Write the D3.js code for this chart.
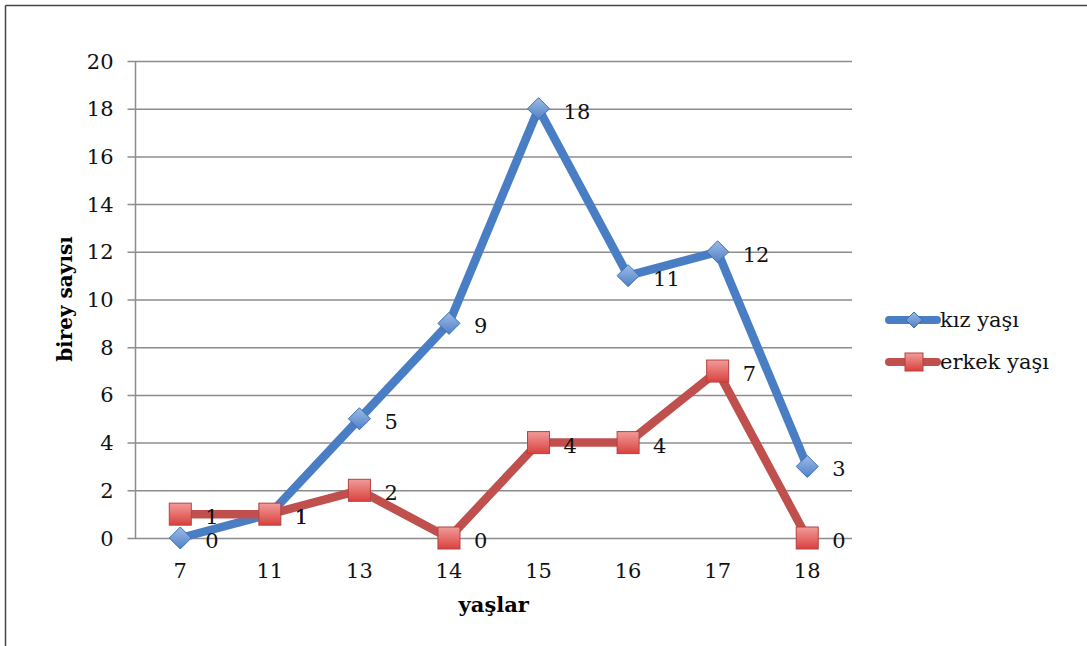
<!DOCTYPE html>
<html><head><meta charset="utf-8">
<script src="https://cdn.jsdelivr.net/npm/d3@7"></script>
<style>body{margin:0;background:#fff}svg{display:block}</style>
</head><body>
<svg id="c" width="1087" height="646"></svg>
<script>
const categories = ["7","11","13","14","15","16","17","18"];
const kiz = [0,1,5,9,18,11,12,3];
const erkek = [1,1,2,0,4,4,7,0];
const yTicks = [0,2,4,6,8,10,12,14,16,18,20];
const seriesNames = ["kız yaşı","erkek yaşı"];

const svg = d3.select("#c");
const W=1087,H=646;
const font = "'DejaVu Serif',serif";
// frame
svg.append("line").attr("x1",5.5).attr("x2",5.5).attr("y1",5.5).attr("y2",H).attr("stroke","#444").attr("stroke-width",1.5);
svg.append("line").attr("x1",5.5).attr("x2",W).attr("y1",5.5).attr("y2",5.5).attr("stroke","#444").attr("stroke-width",1.5);

const L=135.5,R=852,T=61,B=538;
const x = d3.scaleBand().domain(categories).range([L,R]);
const y = d3.scaleLinear().domain([0,20]).range([B,T]);
const cx = d=>x(d)+x.bandwidth()/2;

// gridlines
svg.append("g").selectAll("line").data(yTicks).join("line")
  .attr("x1",L-8).attr("x2",R).attr("y1",d=>y(d)+0.5).attr("y2",d=>y(d)+0.5)
  .attr("stroke","#8c8c8c").attr("stroke-width",1.5);
svg.append("line").attr("x1",L).attr("x2",L).attr("y1",T).attr("y2",B).attr("stroke","#8c8c8c").attr("stroke-width",1.5);

// y tick labels
svg.append("g").selectAll("text").data(yTicks).join("text")
  .attr("x",L-22).attr("y",d=>y(d)+7.5).attr("text-anchor","end")
  .attr("font-family",font).attr("font-size",21).attr("fill","#111").text(d=>d);
// x tick labels
svg.append("g").selectAll("text").data(categories).join("text")
  .attr("x",d=>cx(d)).attr("y",B+40).attr("text-anchor","middle")
  .attr("font-family",font).attr("font-size",21).attr("fill","#111").text(d=>d);

// axis titles
svg.append("text").attr("x",(L+R)/2).attr("y",612).attr("text-anchor","middle")
  .attr("font-family",font).attr("font-size",21).attr("font-weight","bold").text("yaşlar");
svg.append("text").attr("transform","translate(72,299) rotate(-90)").attr("text-anchor","middle")
  .attr("font-family",font).attr("font-size",20).attr("font-weight","bold").text("birey sayısı");

const defs = svg.append("defs");
const gb = defs.append("linearGradient").attr("id","gb").attr("x1",0).attr("y1",0).attr("x2",0).attr("y2",1);
gb.append("stop").attr("offset","0%").attr("stop-color","#9dbbe6");
gb.append("stop").attr("offset","100%").attr("stop-color","#4f81c7");
const gr = defs.append("linearGradient").attr("id","gr").attr("x1",0).attr("y1",0).attr("x2",0).attr("y2",1);
gr.append("stop").attr("offset","0%").attr("stop-color","#f19c9a");
gr.append("stop").attr("offset","100%").attr("stop-color","#d9413e");

const line = d3.line().x((d,i)=>cx(categories[i])).y(d=>y(d));
const colors = ["#4a7ec4","#c0504d"];

function drawSeries(vals,color){
  svg.append("path").datum(vals).attr("d",line).attr("fill","none")
    .attr("stroke",color).attr("stroke-width",8.5).attr("stroke-linejoin","round").attr("stroke-linecap","round");
}
drawSeries(kiz,colors[0]);
drawSeries(erkek,colors[1]);

function diamond(g,px,py,s){
  g.append("path").attr("d",`M${px},${py-s}L${px+s},${py}L${px},${py+s}L${px-s},${py}Z`)
   .attr("fill","url(#gb)").attr("stroke","#3d6fb3").attr("stroke-width",1);
}
function square(g,px,py,s){
  g.append("rect").attr("x",px-s).attr("y",py-s).attr("width",2*s).attr("height",2*s)
   .attr("fill","url(#gr)").attr("stroke","#b5413e").attr("stroke-width",1);
}
const mk = svg.append("g");
kiz.forEach((v,i)=>diamond(mk,cx(categories[i]),y(v),11));
erkek.forEach((v,i)=>square(mk,cx(categories[i]),y(v),11));

// data labels
const lab = svg.append("g").attr("font-family",font).attr("font-size",21).attr("fill","#111");
kiz.forEach((v,i)=>lab.append("text").attr("x",cx(categories[i])+25).attr("y",y(v)+10).text(v));
erkek.forEach((v,i)=>lab.append("text").attr("x",cx(categories[i])+25).attr("y",y(v)+10).text(v));

// legend
const lg = svg.append("g");
[0,1].forEach(k=>{
  const ly = 320 + k*42;
  lg.append("line").attr("x1",889).attr("x2",937).attr("y1",ly).attr("y2",ly)
    .attr("stroke",colors[k]).attr("stroke-width",8).attr("stroke-linecap","round");
  if(k===0) diamond(lg,914,ly,8); else square(lg,914,ly,9);
  lg.append("text").attr("x",940).attr("y",ly+7).attr("font-family",font).attr("font-size",21)
    .attr("fill","#111").text(seriesNames[k]);
});
</script>
</body></html>
